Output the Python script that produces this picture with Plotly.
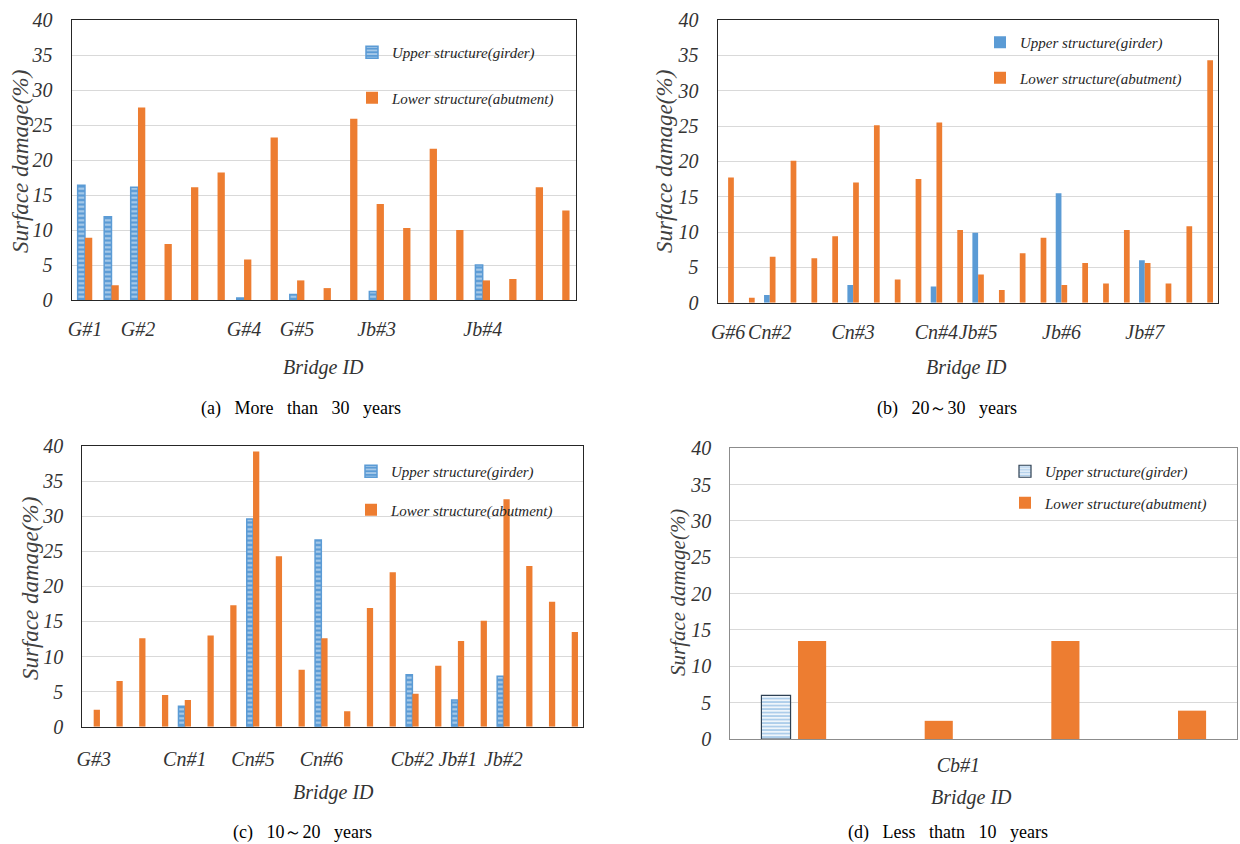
import plotly.graph_objects as go

ORANGE = "#ED7D31"
BLUE = "#5B9BD5"
SERIF = "Liberation Serif"

# ---------------- data ----------------
series_names = ["Upper structure(girder)", "Lower structure(abutment)"]

# (a) More than 30 years
a_ids = ["G#1", "", "G#2", "", "", "", "G#4", "", "G#5", "", "", "Jb#3", "", "", "", "Jb#4", "", "", ""]
a_upper = [16.4, 11.9, 16.1, None, None, None, 0.3, None, 0.8, None, None, 1.2, None, None, None, 5.0, None, None, None]
a_lower = [8.9, 2.1, 27.5, 8.0, 16.1, 18.2, 5.8, 23.2, 2.8, 1.7, 25.9, 13.7, 10.3, 21.6, 10.0, 2.8, 3.0, 16.1, 12.8]

# (b) 20~30 years
b_ids = ["G#6", "", "Cn#2", "", "", "", "Cn#3", "", "", "", "Cn#4", "", "Jb#5", "", "", "", "Jb#6", "", "", "", "Jb#7", "", "", ""]
b_upper = [None, None, 1.1, None, None, None, 2.5, None, None, None, 2.3, None, 9.9, None, None, None, 15.5, None, None, None, 6.0, None, None, None]
b_lower = [17.7, 0.7, 6.5, 20.1, 6.3, 9.4, 17.0, 25.1, 3.3, 17.5, 25.5, 10.3, 4.0, 1.8, 7.0, 9.2, 2.5, 5.6, 2.7, 10.3, 5.6, 2.7, 10.8, 34.3]

# (c) 10~20 years
c_ids = ["G#3", "", "", "", "Cn#1", "", "", "Cn#5", "", "", "Cn#6", "", "", "", "Cb#2", "", "Jb#1", "", "Jb#2", "", "", ""]
c_upper = [None, None, None, None, 2.9, None, None, 29.6, None, None, 26.6, None, None, None, 7.4, None, 3.8, None, 7.2, None, None, None]
c_lower = [2.4, 6.5, 12.6, 4.5, 3.8, 13.0, 17.3, 39.2, 24.3, 8.1, 12.6, 2.2, 16.9, 22.0, 4.7, 8.7, 12.2, 15.1, 32.4, 22.9, 17.8, 13.5]

# (d) Less than 10 years
d_upper = [6.0, None, None, None]
d_lower = [13.5, 2.5, 13.5, 3.9]
d_label = "Cb#1"
d_label_pos = 2.3

SP = "\u00a0\u00a0\u00a0"
captions = [
    SP.join(["(a)", "More", "than", "30", "years"]),
    SP.join(["(b)", "20～30", "years"]),
    SP.join(["(c)", "10～20", "years"]),
    SP.join(["(d)", "Less", "thatn", "10", "years"]),
]
y_title = "Surface damage(%)"
x_title = "Bridge ID"
y_ticks = [0, 5, 10, 15, 20, 25, 30, 35, 40]

# ---------------- layout helpers ----------------
W, H = 1240, 844

def px_x(v):
    return v / W

def px_y(v):
    return 1 - v / H

# plot-area boxes in window pixels: left, right, top, bottom
boxes = [
    (71.7, 575.5, 20, 300),
    (717.7, 1217.7, 20, 302.7),
    (82.3, 583.1, 446, 726.7),
    (730.4, 1237, 448.3, 739),
]
frame_colors = ["#262626", "#262626", "#262626", "#8c8c8c"]
xtick_standoff = [11, 11, 14, 8]
legend_pos = [(352, 36), (980, 26), (351, 455), (1005, 455)]
legend_gaps = [23, 13, 16, 9]
caption_pos = [(301, 408), (947, 408), (302, 832), (948, 832)]
ytitle_pos = [(20, 162), (664, 162), (30, 589), (678, 593)]
ytitle_size = [23, 23, 23, 21]
xtitle_pos = [(323, 367), (967, 367), (333, 792), (971, 797)]

fig = go.Figure()

upper_hatched = dict(color=BLUE, line=dict(color=BLUE, width=1.5),
                     pattern=dict(shape="-", fgcolor="white", bgcolor=BLUE, size=4.5, solidity=0.45))
upper_solid = dict(color=BLUE, line=dict(width=0))
upper_striped = dict(color="white", line=dict(color="#2E4053", width=1.2),
                     pattern=dict(shape="-", fgcolor=BLUE, bgcolor="white", size=3.5, solidity=0.6))
lower_style = dict(color=ORANGE, line=dict(width=0))

panels = [
    (a_upper, a_lower, upper_hatched),
    (b_upper, b_lower, upper_solid),
    (c_upper, c_lower, upper_hatched),
    (d_upper, d_lower, upper_striped),
]

for i, (up, lo, up_style) in enumerate(panels):
    n = len(lo)
    xs = list(range(1, n + 1))
    sfx = "" if i == 0 else str(i + 1)
    leg = "legend" if i == 0 else f"legend{i + 1}"
    extra_u, extra_l = {}, {}
    if i == 3:
        extra_u = dict(width=0.23, offset=-0.255)
        extra_l = dict(width=0.222, offset=0.034)
    fig.add_trace(go.Bar(x=xs, y=up, name=series_names[0], marker=up_style,
                         xaxis="x" + sfx, yaxis="y" + sfx, legend=leg,
                         legendgroup=f"u{i}", **extra_u))
    fig.add_trace(go.Bar(x=xs, y=lo, name=series_names[1], marker=lower_style,
                         xaxis="x" + sfx, yaxis="y" + sfx, legend=leg,
                         legendgroup=f"l{i}", **extra_l))

tick_font = dict(family=SERIF, size=20, color="#333333", style="italic")
ytick_font = dict(family=SERIF, size=20, color="#333333", style="italic")
xtitle_font = dict(family=SERIF, size=20, color="#333333", style="italic")
legend_font = dict(family=SERIF, size=15, color="#262626", style="italic")

layout = dict(
    width=W, height=H, autosize=False,
    margin=dict(l=0, r=0, t=0, b=0, pad=0, autoexpand=False),
    paper_bgcolor="white", plot_bgcolor="white",
    barmode="group", bargap=0.45, bargroupgap=0,
)

id_lists = [a_ids, b_ids, c_ids, None]
for i, (l, r, t, b) in enumerate(boxes):
    sfx = "" if i == 0 else str(i + 1)
    n = len(panels[i][1])
    if id_lists[i] is not None:
        tv = [k + 1 for k, s in enumerate(id_lists[i]) if s]
        tt = [s for s in id_lists[i] if s]
    else:
        tv, tt = [d_label_pos], [d_label]
    layout["xaxis" + sfx] = dict(
        domain=[px_x(l), px_x(r)], anchor="y" + sfx, range=[0.5, n + 0.5],
        tickvals=tv, ticktext=tt, tickfont=tick_font, ticks="",
        ticklabelstandoff=xtick_standoff[i], tickangle=0, automargin=False,
        showgrid=False, zeroline=False, showline=True, linecolor=frame_colors[i],
        linewidth=1.2, mirror=True,
    )
    layout["yaxis" + sfx] = dict(
        domain=[px_y(b), px_y(t)], anchor="x" + sfx, range=[0, 40],
        tickvals=y_ticks, tickfont=ytick_font, ticks="", ticklabelstandoff=14,
        automargin=False,
        showgrid=True, gridcolor="#d9d9d9", gridwidth=1.3, zeroline=False,
        showline=True, linecolor=frame_colors[i], linewidth=1.2, mirror=True,
    )
    lg_name = "legend" if i == 0 else f"legend{i + 1}"
    lx, ly = legend_pos[i]
    layout[lg_name] = dict(
        x=px_x(lx), y=px_y(ly), xanchor="left", yanchor="top",
        bgcolor="rgba(0,0,0,0)", borderwidth=0, font=legend_font,
        traceorder="grouped", tracegroupgap=legend_gaps[i],
    )

annotations = []
for i in range(4):
    cx, cy = caption_pos[i]
    annotations.append(dict(
        x=px_x(cx), y=px_y(cy), xref="paper", yref="paper", showarrow=False,
        text=captions[i], font=dict(family=SERIF, size=18, color="#000000"),
        xanchor="center", yanchor="middle",
    ))
    tx, ty = ytitle_pos[i]
    annotations.append(dict(
        x=px_x(tx), y=px_y(ty), xref="paper", yref="paper", showarrow=False,
        text=y_title, textangle=-90,
        font=dict(family=SERIF, size=ytitle_size[i], color="#404040", style="italic"),
        xanchor="center", yanchor="middle",
    ))
    bx, by = xtitle_pos[i]
    annotations.append(dict(
        x=px_x(bx), y=px_y(by), xref="paper", yref="paper", showarrow=False,
        text=x_title, font=xtitle_font, xanchor="center", yanchor="middle",
    ))
layout["annotations"] = annotations

fig.update_layout(**layout)
fig.write_html("out.html", config={"displayModeBar": False},
               post_script="document.body.style.margin='0';")
